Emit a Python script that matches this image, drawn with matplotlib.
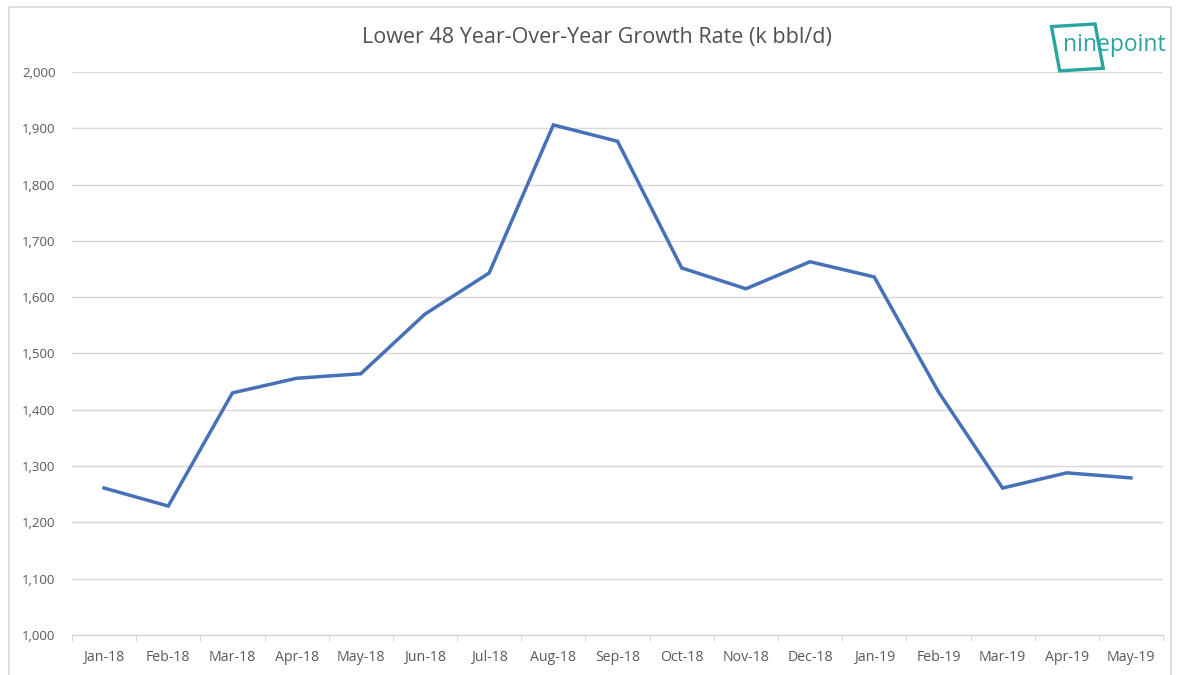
import matplotlib.pyplot as plt
from matplotlib.patches import Rectangle
from matplotlib.ticker import FuncFormatter, FixedLocator

months = ['Jan-18', 'Feb-18', 'Mar-18', 'Apr-18', 'May-18', 'Jun-18', 'Jul-18',
          'Aug-18', 'Sep-18', 'Oct-18', 'Nov-18', 'Dec-18', 'Jan-19', 'Feb-19',
          'Mar-19', 'Apr-19', 'May-19']
growth = [1261, 1229, 1430, 1456, 1464, 1570, 1643, 1906, 1877, 1652, 1615,
          1663, 1636, 1432, 1261, 1288, 1279]
yticks = list(range(1000, 2001, 100))

plt.rcParams['font.family'] = ['Open Sans', 'DejaVu Sans']

fig = plt.figure(figsize=(11.84, 6.75), dpi=100)
ax = fig.add_axes([0.0608, 0.0593, 0.9215, 0.834])

x = list(range(len(months)))
ax.plot(x, growth, color='#4671b8', lw=2.5, solid_joinstyle='miter', zorder=3)

ax.set_xlim(-0.5, len(months) - 0.5)
ax.set_ylim(1000, 2000)
ax.set_yticks(yticks)
ax.yaxis.set_major_formatter(FuncFormatter(lambda v, p: '{:,.0f}'.format(v)))
ax.set_xticks(x)
ax.set_xticklabels(months)
ax.xaxis.set_minor_locator(FixedLocator([i - 0.5 for i in range(len(months) + 1)]))
ax.grid(axis='y', color='#d9d9d9', lw=1)
ax.set_axisbelow(True)
for s in ['top', 'right', 'left']:
    ax.spines[s].set_visible(False)
ax.spines['bottom'].set_color('#d0d0d0')
ax.tick_params(axis='y', length=0, labelsize=9.5, labelcolor='#595959', pad=12)
ax.tick_params(axis='x', which='major', length=0, labelsize=10.2, labelcolor='#595959', pad=11)
ax.tick_params(axis='x', which='minor', length=4, color='#d0d0d0')

fig.text(0.504, 0.944, 'Lower 48 Year-Over-Year Growth Rate (k bbl/d)',
         ha='center', va='center', fontsize=15.5, color='#505050')

# chart frame
fig.patches.append(Rectangle((0.0076, -0.05), 0.981, 1.04, transform=fig.transFigure,
                             fill=False, ec='#d9d9d9', lw=1.2))

# logo
fig.patches.append(Rectangle((0.895, 0.895), 0.037, 0.066, transform=fig.transFigure,
                             fill=False, ec='#2aa59f', lw=2.4, angle=6))
fig.text(0.898, 0.934, 'ninepoint', ha='left', va='center', fontsize=16.5,
         color='#2aa59f')

fig.savefig('out.png', dpi=100)
